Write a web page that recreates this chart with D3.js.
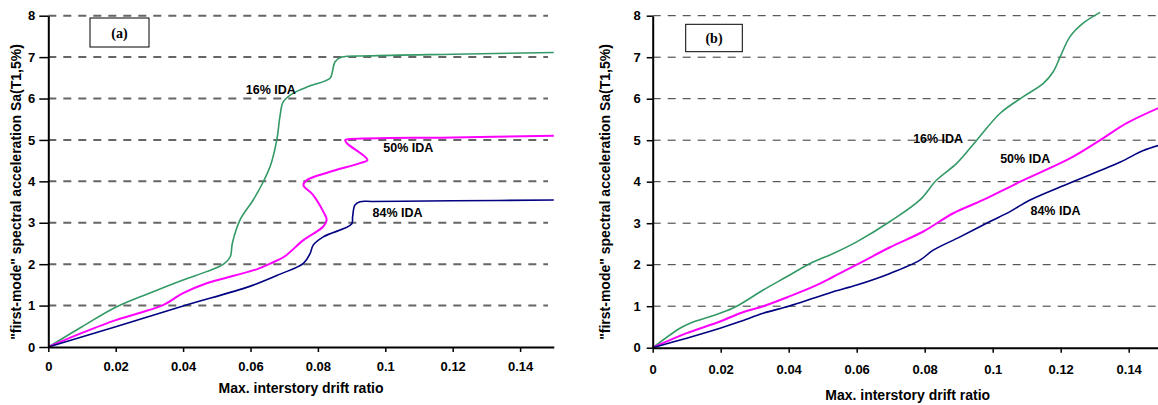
<!DOCTYPE html>
<meta charset="utf-8">
<html>
<head>
<style>
  html, body { margin: 0; padding: 0; background: #fff; }
  svg { display: block; }
  .tick text { font-family: "Liberation Sans", Arial, sans-serif; font-weight: bold; font-size: 13px; fill: #000; }
  .axis-title { font-family: "Liberation Sans", Arial, sans-serif; font-weight: bold; font-size: 14px; }
  .ida-label { font-family: "Liberation Sans", Arial, sans-serif; font-weight: bold; font-size: 12.5px; }
  .panel-tag { font-family: "Liberation Serif", "Times New Roman", serif; font-weight: bold; font-size: 14px; }
</style>
</head>
<body>
<svg width="1158" height="405"></svg>
<script src="https://cdn.jsdelivr.net/npm/d3@7"></script>
<script>
// ---- data ----
var xTicks = [0, 0.02, 0.04, 0.06, 0.08, 0.1, 0.12, 0.14];
var yTicks = [0, 1, 2, 3, 4, 5, 6, 7, 8];
var seriesNames = ["16% IDA", "50% IDA", "84% IDA"];

// panel (a)
var a16x = [0, 0.01, 0.02, 0.03, 0.04, 0.047, 0.052, 0.054, 0.0546, 0.0569, 0.0608, 0.0638, 0.066, 0.0678, 0.0688, 0.0697, 0.0727, 0.0775, 0.0836, 0.0843, 0.0851, 0.0871, 0.095, 0.12, 0.15];
var a16y = [0, 0.49, 0.96, 1.3, 1.62, 1.82, 2.0, 2.18, 2.5, 3.07, 3.55, 3.99, 4.4, 5.0, 5.6, 5.92, 6.13, 6.3, 6.49, 6.65, 6.89, 7.0, 7.03, 7.07, 7.11];
var a50x = [0, 0.01, 0.02, 0.027, 0.034, 0.04, 0.047, 0.055, 0.062, 0.066, 0.07, 0.0757, 0.0816, 0.0826, 0.0816, 0.0786, 0.0757, 0.0767, 0.0836, 0.0925, 0.0947, 0.0886, 0.0881, 0.0895, 0.12, 0.15];
var a50y = [0, 0.34, 0.65, 0.82, 1.01, 1.3, 1.54, 1.72, 1.88, 2.02, 2.18, 2.58, 2.91, 3.07, 3.27, 3.67, 3.91, 4.03, 4.23, 4.44, 4.52, 4.92, 5.0, 5.02, 5.06, 5.1];
var a84x = [0, 0.02, 0.04, 0.06, 0.0688, 0.0757, 0.0777, 0.0786, 0.0816, 0.09, 0.0903, 0.091, 0.0925, 0.096, 0.105, 0.12, 0.15];
var a84y = [0, 0.49, 0.99, 1.47, 1.76, 2.02, 2.26, 2.46, 2.66, 2.97, 3.15, 3.43, 3.51, 3.515, 3.52, 3.53, 3.55];

// panel (b)
var b16x = [0, 0.008, 0.011, 0.0198, 0.0247, 0.0325, 0.0394, 0.0463, 0.0531, 0.06, 0.0698, 0.0786, 0.0835, 0.0894, 0.0953, 0.1022, 0.109, 0.1149, 0.1178, 0.1198, 0.1227, 0.1266, 0.1316];
var b16y = [0, 0.47, 0.59, 0.83, 1.0, 1.39, 1.71, 2.03, 2.27, 2.55, 3.04, 3.56, 4.04, 4.44, 5.0, 5.65, 6.05, 6.37, 6.65, 7.0, 7.49, 7.82, 8.08];
var b50x = [0, 0.01, 0.0198, 0.0257, 0.0325, 0.04, 0.0472, 0.0531, 0.06, 0.0698, 0.0796, 0.0884, 0.0972, 0.1081, 0.1227, 0.1316, 0.1394, 0.15];
var b50y = [0, 0.35, 0.63, 0.83, 1.0, 1.23, 1.47, 1.71, 2.0, 2.42, 2.8, 3.24, 3.56, 4.0, 4.56, 5.0, 5.41, 5.82];
var b84x = [0, 0.01, 0.0198, 0.0257, 0.0325, 0.04, 0.0472, 0.0531, 0.06, 0.0698, 0.0786, 0.0825, 0.0904, 0.0992, 0.1051, 0.111, 0.1227, 0.1374, 0.1443, 0.15];
var b84y = [0, 0.23, 0.47, 0.63, 0.83, 1.0, 1.19, 1.35, 1.51, 1.79, 2.11, 2.35, 2.67, 3.04, 3.28, 3.56, 3.97, 4.47, 4.75, 4.9];

var colors = ["#339966", "#ff00ff", "#000080"];

var svg = d3.select("svg");
svg.append("rect").attr("width", 1158).attr("height", 405).attr("fill", "#fff");

function zip(xs, ys) {
    return xs.map(function (x, i) { return [x, ys[i]]; });
}

function drawPanel(p) {
    var x = d3.scaleLinear().domain([0, 0.15]).range([p.left, p.right]);
    var y = d3.scaleLinear().domain([0, 8]).range([p.bottom, p.top]);
    var g = svg.append("g");

    // dashed grid
    g.append("g").selectAll("line")
        .data(yTicks.filter(function (d) { return d > 0; }))
        .enter().append("line")
        .attr("x1", p.left).attr("x2", p.gridEnd)
        .attr("y1", function (d) { return y(d); })
        .attr("y2", function (d) { return y(d); })
        .attr("stroke", p.gridColor)
        .attr("stroke-width", p.gridWidth)
        .attr("stroke-dasharray", p.dash);

    var line = d3.line()
        .x(function (d) { return x(d[0]); })
        .y(function (d) { return y(d[1]); })
        .curve(d3.curveCatmullRom.alpha(0.5));

    g.append("g").selectAll("path")
        .data(p.series)
        .enter().append("path")
        .attr("d", function (d) { return line(d); })
        .attr("fill", "none")
        .attr("stroke", function (d, i) { return colors[i]; })
        .attr("stroke-width", function (d, i) { return i === 1 ? 2 : 1.6; });

    // series labels
    g.selectAll("text.ida-label")
        .data(p.labels)
        .enter().append("text")
        .attr("class", "ida-label")
        .attr("x", function (d) { return x(d[0]); })
        .attr("y", function (d) { return y(d[1]); })
        .text(function (d, i) { return seriesNames[i]; });

    // axes
    var xAxis = d3.axisBottom(x).tickValues(xTicks)
        .tickFormat(function (d) { return d === 0 ? "0" : d3.format("")(+d.toFixed(2)); })
        .tickSize(5).tickSizeOuter(0).tickPadding(p.xPad);
    var gx = g.append("g").attr("transform", "translate(0," + p.bottom + ")").call(xAxis);
    gx.select(".domain").attr("stroke", "#000").attr("stroke-width", 2);
    gx.selectAll(".tick line").attr("stroke", "#000").attr("stroke-width", 1.5);

    var yAxis = d3.axisLeft(y).tickValues(yTicks)
        .tickSize(p.yTick).tickSizeOuter(0).tickPadding(p.yPad);
    var gy = g.append("g").attr("transform", "translate(" + p.left + ",0)").call(yAxis);
    gy.select(".domain").attr("stroke", "#000").attr("stroke-width", 2);
    gy.selectAll(".tick line").attr("stroke", "#000").attr("stroke-width", 1.5);

    // titles
    g.append("text").attr("class", "axis-title")
        .attr("x", (p.left + p.right) / 2).attr("y", p.xTitleY)
        .attr("text-anchor", "middle")
        .text("Max. interstory drift ratio");
    g.append("text").attr("class", "axis-title")
        .attr("transform", "translate(" + p.yTitleX + ",192) rotate(-90)")
        .attr("text-anchor", "middle")
        .text("\"first-mode\" spectral acceleration Sa(T1,5%)");

    // panel tag box
    g.append("rect")
        .attr("x", p.box[0]).attr("y", p.box[1])
        .attr("width", p.box[2]).attr("height", p.box[3])
        .attr("fill", "#fff").attr("stroke", "#000").attr("stroke-width", 1);
    g.append("text").attr("class", "panel-tag")
        .attr("x", p.box[0] + p.box[2] / 2).attr("y", p.box[1] + p.box[3] / 2 + 5)
        .attr("text-anchor", "middle")
        .text(p.tag);
}

drawPanel({
    left: 48.3, right: 553.8, top: 15.7, bottom: 347,
    gridEnd: 548, gridColor: "#666", gridWidth: 2, dash: "8,7",
    series: [zip(a16x, a16y), zip(a50x, a50y), zip(a84x, a84y)],
    labels: [[0.0586, 6.12], [0.0994, 4.7], [0.0962, 3.15]],
    xPad: 10, yTick: 9, yPad: 4,
    xTitleY: 393, yTitleX: 21,
    box: [90, 18, 59, 29], tag: "(a)"
});

drawPanel({
    left: 652.7, right: 1162.7, top: 15.7, bottom: 347.7,
    gridEnd: 1158, gridColor: "#333", gridWidth: 1, dash: "8,7",
    series: [zip(b16x, b16y), zip(b50x, b50y), zip(b84x, b84y)],
    labels: [[0.0766, 4.93], [0.1022, 4.45], [0.1111, 3.2]],
    xPad: 12, yTick: 6, yPad: 6,
    xTitleY: 400, yTitleX: 610,
    box: [685.7, 24.3, 56.6, 27.4], tag: "(b)"
});
</script>
</body>
</html>
